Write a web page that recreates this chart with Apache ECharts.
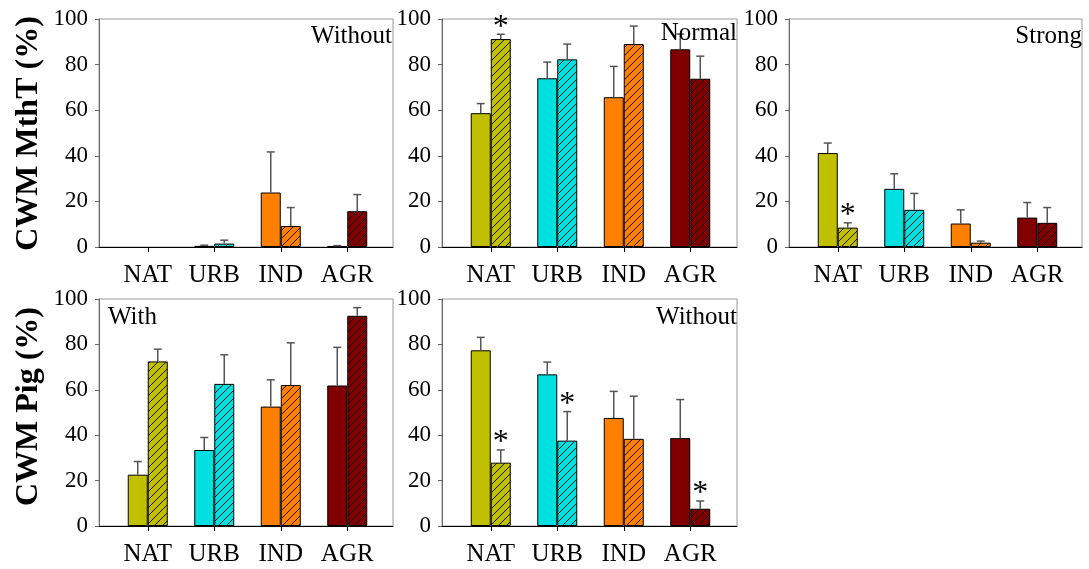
<!DOCTYPE html>
<html>
<head>
<meta charset="utf-8">
<script src="https://cdn.jsdelivr.net/npm/echarts@6/dist/echarts.min.js"></script>
<style>
html,body{margin:0;padding:0;background:#fff;}
#chart{width:1089px;height:569px;}
</style>
</head>
<body>
<div id="chart"></div>
<script>
// ---------- data ----------
const categories = ['NAT', 'URB', 'IND', 'AGR'];
const barColors = ['#C0C000', '#00E0E0', '#FF8000', '#800000'];
const panelLabels = ['Without', 'Normal', 'Strong', 'With', 'Without'];
const yTitles = ['CWM MthT (%)', 'CWM Pig (%)'];

// MthT - Without
const p1Solid = [0, 0.5, 23.9, 0.3];
const p1SolidErr = [0, 0.3, 17.8, 0.3];
const p1Hatch = [0, 1.5, 9.2, 15.7];
const p1HatchErr = [0, 1.5, 8.1, 7.3];
const p1Stars = [0, 0, 0, 0];
// MthT - Normal
const p2Solid = [58.7, 74.0, 65.7, 86.7];
const p2SolidErr = [4.2, 7.1, 13.5, 6.7];
const p2Hatch = [91.2, 82.3, 89.0, 73.8];
const p2HatchErr = [2.1, 6.7, 7.9, 9.9];
const p2Stars = [1, 0, 0, 0];
// MthT - Strong
const p3Solid = [41.2, 25.5, 10.3, 12.9];
const p3SolidErr = [4.4, 6.6, 6.0, 6.6];
const p3Hatch = [8.5, 16.3, 1.9, 10.6];
const p3HatchErr = [2.1, 7.2, 0.7, 6.7];
const p3Stars = [1, 0, 0, 0];
// Pig - With
const p4Solid = [22.6, 33.5, 52.6, 61.9];
const p4SolidErr = [5.8, 5.5, 11.8, 16.8];
const p4Hatch = [72.5, 62.6, 62.1, 92.6];
const p4HatchErr = [5.4, 12.8, 18.6, 3.6];
const p4Stars = [0, 0, 0, 0];
// Pig - Without
const p5Solid = [77.4, 66.8, 47.6, 38.7];
const p5SolidErr = [5.7, 5.4, 11.7, 17.0];
const p5Hatch = [27.9, 37.6, 38.4, 7.6];
const p5HatchErr = [5.6, 12.8, 18.8, 3.4];
const p5Stars = [1, 1, 0, 1];

const panelsData = [
  [p1Solid, p1SolidErr, p1Hatch, p1HatchErr, p1Stars],
  [p2Solid, p2SolidErr, p2Hatch, p2HatchErr, p2Stars],
  [p3Solid, p3SolidErr, p3Hatch, p3HatchErr, p3Stars],
  [p4Solid, p4SolidErr, p4Hatch, p4HatchErr, p4Stars],
  [p5Solid, p5SolidErr, p5Hatch, p5HatchErr, p5Stars]
];

// ---------- layout ----------
const frames = [
  {left: 99, top: 19, width: 294, height: 228},
  {left: 442, top: 19, width: 295, height: 228},
  {left: 789, top: 19, width: 293, height: 228},
  {left: 99, top: 299, width: 294, height: 227},
  {left: 442, top: 299, width: 295, height: 227}
];
const FONT = '"Liberation Serif", "Times New Roman", serif';
const BAR_W = 20;

function hatch(color) {
  const c = document.createElement('canvas');
  c.width = 8; c.height = 8;
  const g = c.getContext('2d');
  g.fillStyle = color; g.fillRect(0, 0, 8, 8);
  g.strokeStyle = 'rgba(0,0,0,0.9)'; g.lineWidth = 1;
  g.beginPath();
  g.moveTo(0, 8); g.lineTo(8, 0);
  g.moveTo(-1, 1); g.lineTo(1, -1);
  g.moveTo(7, 9); g.lineTo(9, 7);
  g.stroke();
  return {image: c, repeat: 'repeat'};
}
const hatchColors = barColors.map(hatch);

const grid = [], xAxis = [], yAxis = [], series = [];
frames.forEach((f, i) => {
  const fi = 2 * i, di = 2 * i + 1;
  grid.push({left: f.left, top: f.top, width: f.width, height: f.height, show: true,
    borderColor: '#999', borderWidth: 1, backgroundColor: 'transparent'});
  grid.push({left: f.left + 15.5, top: f.top, width: 266, height: f.height});
  xAxis.push({gridIndex: fi, type: 'value', min: 0, max: 1,
    axisLine: {show: true, lineStyle: {color: '#000', width: 1}},
    axisTick: {show: false}, axisLabel: {show: false}, splitLine: {show: false}});
  yAxis.push({gridIndex: fi, type: 'value', min: 0, max: 100, interval: 20,
    axisLine: {show: true, lineStyle: {color: '#666', width: 1}},
    axisTick: {show: true, length: 4, lineStyle: {color: '#666'}},
    axisLabel: {fontFamily: FONT, fontSize: 23, color: '#000', margin: 11},
    splitLine: {show: false}});
  xAxis.push({gridIndex: di, type: 'category', data: categories,
    axisLine: {show: false},
    axisTick: {show: true, interval: 0, alignWithLabel: true, length: 5, lineStyle: {color: '#000'}},
    axisLabel: {interval: 0, hideOverlap: false, fontFamily: FONT, fontSize: 25, color: '#000', margin: 16}});
  yAxis.push({gridIndex: di, type: 'value', min: 0, max: 100, show: false});

  const [solid, solidErr, hat, hatErr, stars] = panelsData[i];
  series.push({type: 'bar', xAxisIndex: di, yAxisIndex: di, barWidth: BAR_W, barGap: '0%',
    data: solid.map((v, k) => ({value: v, itemStyle: {color: barColors[k], borderWidth: v > 0 ? 1 : 0}})),
    itemStyle: {borderColor: '#000', borderWidth: 1}, silent: true, animation: false});
  series.push({type: 'bar', xAxisIndex: di, yAxisIndex: di, barWidth: BAR_W, barGap: '0%',
    data: hat.map((v, k) => ({value: v, itemStyle: {color: hatchColors[k], borderWidth: v > 0 ? 1 : 0}})),
    itemStyle: {borderColor: '#000', borderWidth: 1}, silent: true, animation: false});

  const errData = [];
  solid.forEach((v, k) => { if (solidErr[k] > 0) errData.push([k, v, v + solidErr[k], 0, 0]); });
  hat.forEach((v, k) => { if (hatErr[k] > 0 || stars[k]) errData.push([k, v, v + hatErr[k], 1, stars[k]]); });
  series.push({type: 'custom', xAxisIndex: di, yAxisIndex: di, z: 5, silent: true, animation: false,
    data: errData,
    renderItem: function (params, api) {
      const p0 = api.coord([api.value(0), api.value(1)]);
      const p1 = api.coord([api.value(0), api.value(2)]);
      const x = p0[0] + (api.value(3) ? BAR_W / 2 : -BAR_W / 2);
      const children = [];
      if (api.value(2) > api.value(1)) {
        children.push({type: 'line', shape: {x1: x, y1: p0[1], x2: x, y2: p1[1]},
          style: {stroke: '#555', lineWidth: 1.5}});
        children.push({type: 'line', shape: {x1: x - 4, y1: p1[1], x2: x + 4, y2: p1[1]},
          style: {stroke: '#555', lineWidth: 1.5}});
      }
      if (api.value(4)) {
        children.push({type: 'text', x: x, y: p1[1] - 7,
          style: {text: '*', fontFamily: FONT, fontSize: 32, fill: '#000',
            textAlign: 'center', textVerticalAlign: 'middle'}});
      }
      return {type: 'group', children: children};
    }});
});

const titleStyle = {fontFamily: FONT, fontSize: 32, fontWeight: 'bold', fill: '#000', textAlign: 'center', textVerticalAlign: 'middle'};
const labStyle = {fontFamily: FONT, fontSize: 25, fill: '#000', textVerticalAlign: 'middle'};
const graphic = [
  {type: 'text', x: 28.5, y: 133.5, rotation: Math.PI / 2, style: Object.assign({text: yTitles[0]}, titleStyle)},
  {type: 'text', x: 28.5, y: 406.5, rotation: Math.PI / 2, style: Object.assign({text: yTitles[1]}, titleStyle)},
  {type: 'text', x: 392, y: 36, z: 10, style: Object.assign({text: panelLabels[0], textAlign: 'right'}, labStyle)},
  {type: 'text', x: 737, y: 33, z: 10, style: Object.assign({text: panelLabels[1], textAlign: 'right'}, labStyle)},
  {type: 'text', x: 1082, y: 36, z: 10, style: Object.assign({text: panelLabels[2], textAlign: 'right'}, labStyle)},
  {type: 'text', x: 108, y: 317, z: 10, style: Object.assign({text: panelLabels[3], textAlign: 'left'}, labStyle)},
  {type: 'text', x: 737, y: 317, z: 10, style: Object.assign({text: panelLabels[4], textAlign: 'right'}, labStyle)}
];

const chart = echarts.init(document.getElementById('chart'), null, {renderer: 'canvas'});
chart.setOption({animation: false, backgroundColor: '#fff', grid, xAxis, yAxis, series, graphic});
</script>
</body>
</html>
